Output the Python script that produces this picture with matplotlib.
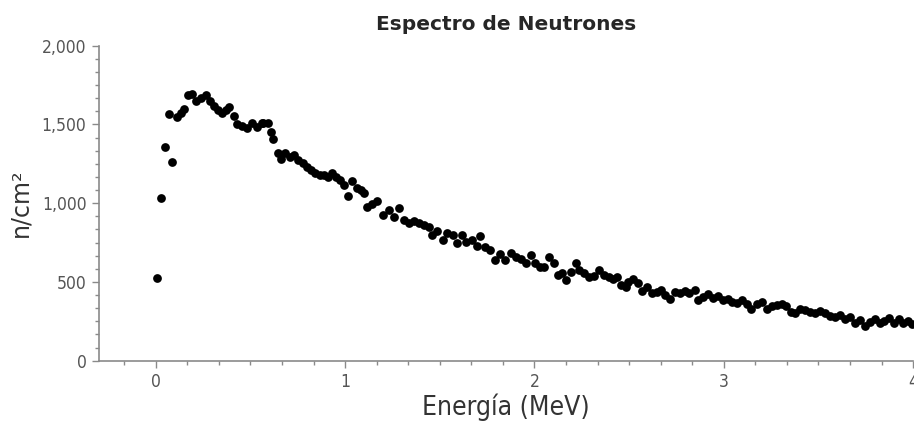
import matplotlib
matplotlib.use("Agg")
import matplotlib.pyplot as plt
from matplotlib.ticker import MultipleLocator, StrMethodFormatter

energy = [
    0.009, 0.03, 0.051, 0.071, 0.088, 0.114, 0.132, 0.149, 0.172, 0.193,
    0.214, 0.237, 0.266, 0.284, 0.306, 0.329, 0.35, 0.371, 0.388, 0.411,
    0.428, 0.454, 0.48, 0.507, 0.533, 0.559, 0.568, 0.594, 0.608, 0.62,
    0.643, 0.664, 0.685, 0.708, 0.73, 0.751, 0.777, 0.8, 0.821, 0.842,
    0.865, 0.887, 0.908, 0.929, 0.952, 0.975, 0.996, 1.017, 1.039, 1.062,
    1.083, 1.1, 1.118, 1.144, 1.17, 1.2, 1.231, 1.257, 1.284, 1.31,
    1.336, 1.362, 1.389, 1.415, 1.441, 1.458, 1.484, 1.516, 1.54, 1.568,
    1.589, 1.615, 1.641, 1.668, 1.694, 1.715, 1.737, 1.763, 1.79, 1.816,
    1.842, 1.877, 1.903, 1.929, 1.956, 1.982, 2.004, 2.029, 2.051, 2.077,
    2.104, 2.127, 2.148, 2.168, 2.191, 2.217, 2.238, 2.261, 2.287, 2.313,
    2.339, 2.365, 2.392, 2.413, 2.435, 2.458, 2.482, 2.496, 2.523, 2.549,
    2.57, 2.593, 2.619, 2.645, 2.671, 2.692, 2.715, 2.741, 2.767, 2.793,
    2.819, 2.846, 2.866, 2.889, 2.915, 2.941, 2.968, 2.994, 3.02, 3.046,
    3.072, 3.098, 3.124, 3.145, 3.177, 3.203, 3.229, 3.256, 3.282, 3.308,
    3.331, 3.355, 3.378, 3.404, 3.43, 3.457, 3.483, 3.509, 3.535, 3.561,
    3.587, 3.613, 3.64, 3.666, 3.692, 3.718, 3.744, 3.771, 3.797, 3.823,
    3.849, 3.875, 3.901, 3.927, 3.948, 3.972, 3.995,
]
flux = [
    523, 1035, 1355, 1566, 1262, 1545, 1571, 1596, 1687, 1693,
    1651, 1666, 1687, 1651, 1617, 1592, 1571, 1592, 1613, 1554,
    1503, 1490, 1475, 1507, 1486, 1507, 1511, 1511, 1454, 1406,
    1317, 1279, 1321, 1295, 1306, 1274, 1257, 1232, 1211, 1190,
    1179, 1179, 1168, 1190, 1168, 1147, 1116, 1046, 1143, 1095,
    1084, 1063, 978, 995, 1016, 925, 957, 914, 968, 893,
    872, 889, 872, 862, 851, 798, 825, 766, 813, 798,
    749, 798, 756, 766, 728, 792, 720, 703, 639, 677,
    639, 686, 656, 644, 622, 671, 622, 597, 593, 656,
    622, 544, 559, 512, 565, 622, 576, 555, 529, 538,
    576, 544, 529, 517, 533, 481, 470, 502, 517, 491,
    444, 470, 432, 438, 449, 417, 390, 438, 432, 444,
    432, 449, 385, 406, 423, 396, 411, 385, 390, 375,
    364, 385, 360, 326, 362, 375, 326, 347, 354, 360,
    347, 311, 301, 326, 322, 311, 305, 317, 301, 284,
    279, 290, 263, 276, 241, 258, 220, 248, 263, 237,
    254, 269, 237, 263, 241, 250, 232,
]

title = "Espectro de Neutrones"
xlabel = "Energía (MeV)"
ylabel = "n/cm²"
xticks = [0, 1, 2, 3, 4]
yticks = [0, 500, 1000, 1500, 2000]

fig = plt.figure(figsize=(9.14, 4.23), dpi=100)
ax = fig.add_axes([0.1083, 0.1473, 0.8907, 0.7447])

ax.plot(energy, flux, "o", color="black", markersize=6.3, markeredgewidth=0)

ax.set_xlim(-0.3, 4.0)
ax.set_ylim(0, 2000)
ax.set_xticks(xticks)
ax.set_yticks(yticks)
ax.xaxis.set_minor_locator(MultipleLocator(1 / 6))
ax.yaxis.set_minor_locator(MultipleLocator(500 / 6))
ax.yaxis.set_major_formatter(StrMethodFormatter("{x:,.0f}"))

for s in ["top", "right"]:
    ax.spines[s].set_visible(False)
for s in ["left", "bottom"]:
    ax.spines[s].set_color("#8a8a8a")
    ax.spines[s].set_linewidth(1.2)

ax.tick_params(which="major", direction="out", length=5, width=1, color="#8a8a8a",
               labelcolor="#555555", labelsize=12.5, pad=4)
ax.tick_params(which="minor", direction="out", length=3, width=1, color="#8a8a8a")
for lab in ax.get_xticklabels() + ax.get_yticklabels():
    lab.set_family("DejaVu Sans")
    lab.set_fontstretch("condensed")

ax.set_title(title, fontsize=14.5, color="#262626", family="DejaVu Sans",
             fontweight="semibold", pad=11)
ax.set_xlabel(xlabel, fontsize=19, color="#333333", family="DejaVu Sans",
              fontstretch="condensed", labelpad=2)
ax.set_ylabel(ylabel, fontsize=17, color="#333333", labelpad=4)
ax.yaxis.set_label_coords(-0.082, 0.5)

fig.savefig("out.png", dpi=100)
